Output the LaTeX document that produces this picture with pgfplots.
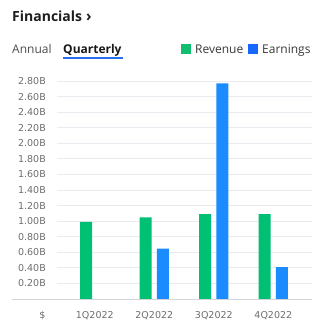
\documentclass[border=0pt]{standalone}
\usepackage{fontspec}
\setmainfont{Open Sans}
\newfontfamily\tickfont{DejaVu Sans}
\usepackage{pgfplots}
\pgfplotsset{compat=1.18}
\definecolor{revgreen}{RGB}{0,192,115}
\definecolor{earnblue}{RGB}{26,140,255}
\definecolor{legblue}{RGB}{22,104,255}
\definecolor{leggreen}{RGB}{16,190,110}
\definecolor{gridc}{RGB}{234,234,240}
\definecolor{tickc}{RGB}{110,110,110}
\definecolor{uline}{RGB}{40,110,240}
\begin{document}
\begin{tikzpicture}[x=1bp,y=1bp]
\path[fill=white] (0,0) rectangle (325,-325);
% header
\node[anchor=base west, inner sep=0pt, text=black!88, font=\fontsize{14bp}{16bp}\selectfont\bfseries] at (12,-21) {Financials};
\node[anchor=base west, inner sep=0pt, text=black!88, font=\fontsize{15bp}{16bp}\selectfont\bfseries] at (86,-21) {›};
\node[anchor=base west, inner sep=0pt, text=black!70, font=\fontsize{12bp}{14bp}\selectfont] at (12,-53) {Annual};
\node[anchor=base west, inner sep=0pt, text=black!90, font=\fontsize{12bp}{14bp}\selectfont\bfseries] at (63,-53) {Quarterly};
\draw[uline, line width=1.8bp] (63,-58) -- (123,-58);
\fill[leggreen] (181,-44) rectangle (191,-54);
\node[anchor=base west, inner sep=0pt, text=black!78, font=\fontsize{12bp}{14bp}\selectfont] at (195,-53) {Revenue};
\fill[legblue] (248,-44) rectangle (258,-54);
\node[anchor=base west, inner sep=0pt, text=black!78, font=\fontsize{12bp}{14bp}\selectfont] at (262,-53) {Earnings};
\begin{axis}[
  at={(57bp,-299bp)}, anchor=south west,
  scale only axis, width=255bp, height=218bp,
  xmin=-0.635, xmax=3.65, ymin=0, ymax=2.8,
  ybar=5.3bp, bar width=12bp,
  axis line style={draw=none},
  major tick length=0pt,
  ymajorgrids, grid style={gridc, line width=1bp},
  ytick={0.2,0.4,...,2.81},
  yticklabels={0.20B,0.40B,0.60B,0.80B,1.00B,1.20B,1.40B,1.60B,1.80B,2.00B,2.20B,2.40B,2.60B,2.80B},
  yticklabel style={anchor=east, inner sep=0pt, xshift=-11bp, text=tickc, font=\tickfont\fontsize{9.5bp}{11bp}\selectfont},
  xtick={0,1,2,3},
  xticklabels={1Q2022,2Q2022,3Q2022,4Q2022},
  xticklabel style={anchor=base, inner sep=0pt, yshift=-19bp, text=tickc, font=\tickfont\fontsize{9.5bp}{11bp}\selectfont},
  clip=false,
]
\addplot[fill=revgreen, draw=none] coordinates {(0,0.99) (1,1.05) (2,1.09) (3,1.09)};
\addplot[fill=earnblue, draw=none] coordinates {(1,0.646) (2,2.77) (3,0.41)};
\end{axis}
\draw[gridc!90!black, line width=1bp] (12,-299) -- (312,-299);
\node[anchor=base, inner sep=0pt, text=tickc, font=\tickfont\fontsize{9.5bp}{11bp}\selectfont] at (42.5,-318) {\$};
\end{tikzpicture}
\end{document}
